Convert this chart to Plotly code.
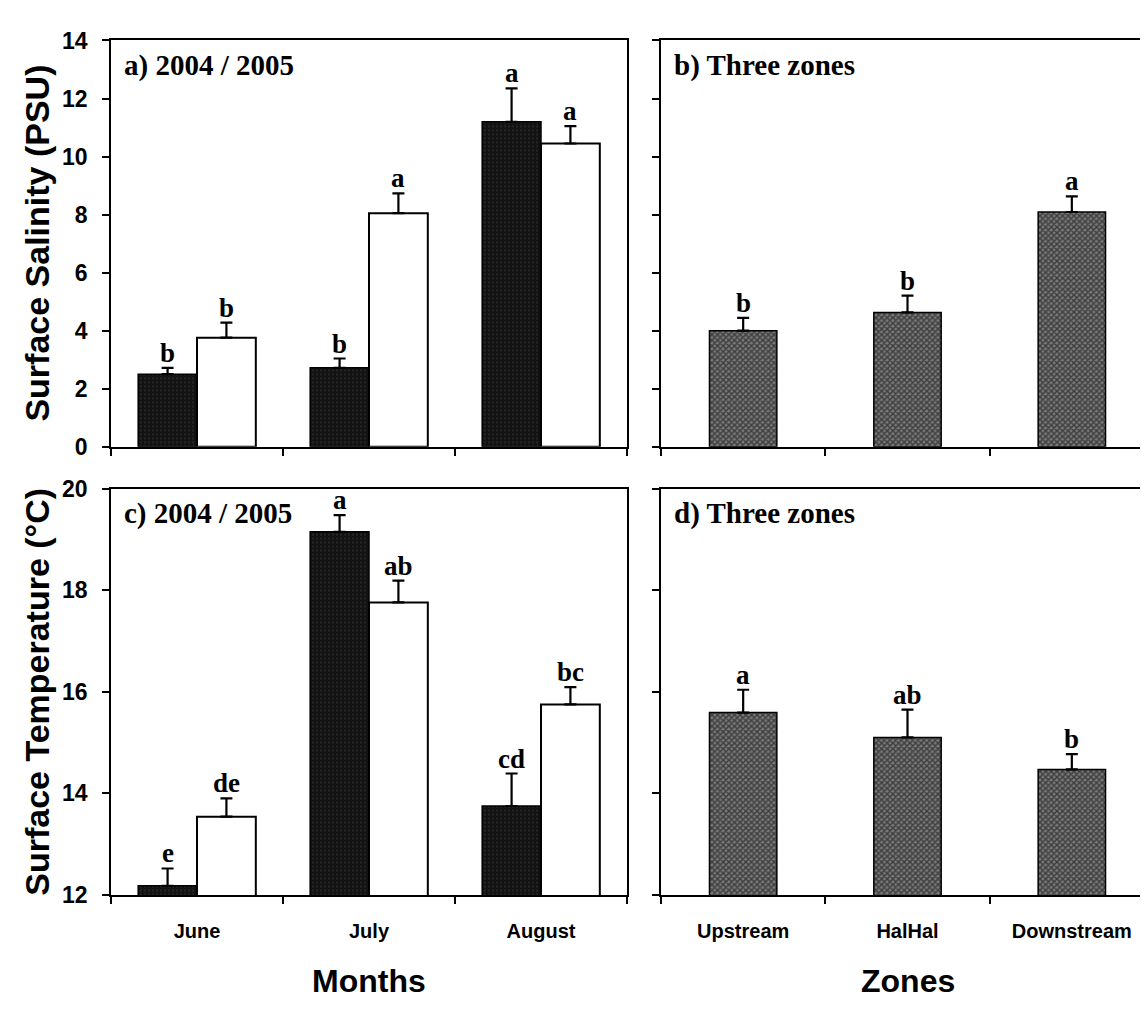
import plotly.graph_objects as go
from plotly.subplots import make_subplots

# ---------------- data ----------------
months = ["June", "July", "August"]
zones = ["Upstream", "HalHal", "Downstream"]

sal_2004 = [2.5, 2.72, 11.2]
sal_2004_err = [0.22, 0.32, 1.15]
sal_2004_lbl = ["b", "b", "a"]
sal_2005 = [3.76, 8.05, 10.45]
sal_2005_err = [0.52, 0.68, 0.6]
sal_2005_lbl = ["b", "a", "a"]
sal_zone = [4.0, 4.63, 8.09]
sal_zone_err = [0.44, 0.58, 0.54]
sal_zone_lbl = ["b", "b", "a"]

temp_2004 = [12.18, 19.15, 13.75]
temp_2004_err = [0.34, 0.33, 0.64]
temp_2004_lbl = ["e", "a", "cd"]
temp_2005 = [13.54, 17.76, 15.75]
temp_2005_err = [0.36, 0.43, 0.34]
temp_2005_lbl = ["de", "ab", "bc"]
temp_zone = [15.59, 15.1, 14.47]
temp_zone_err = [0.45, 0.55, 0.3]
temp_zone_lbl = ["a", "ab", "b"]

panel_titles = ["a) 2004 / 2005", "b) Three zones", "c) 2004 / 2005", "d) Three zones"]
sal_ticks = [0, 2, 4, 6, 8, 10, 12, 14]
temp_ticks = [12, 14, 16, 18, 20]

# ---------------- figure ----------------
W, H = 1148, 1009
fig = make_subplots(rows=2, cols=2)

MONTH_GAP = 0.316
ZONE_GAP = 0.59
half = (1 - MONTH_GAP) / 4.0  # offset of each grouped bar centre

black = dict(color="#111111", line=dict(color="black", width=1.5),
             pattern=dict(shape=".", fgcolor="#3a3a3a", size=4, solidity=0.25))
white = dict(color="white", line=dict(color="black", width=2))
zone_m = dict(color="#555555", line=dict(color="black", width=1.5),
              pattern=dict(shape="x", fgcolor="#000000", bgcolor="#7a7a7a", size=4, solidity=0.6))


def err(arr):
    return dict(type="data", symmetric=False, array=arr, arrayminus=[0] * len(arr),
                color="black", thickness=2.2, width=6)


def add_group(row, col, vals04, e04, vals05, e05):
    fig.add_trace(go.Bar(x=months, y=vals04, error_y=err(e04), marker=black,
                         showlegend=False, name="2004"), row=row, col=col)
    fig.add_trace(go.Bar(x=months, y=vals05, error_y=err(e05), marker=white,
                         showlegend=False, name="2005"), row=row, col=col)


def add_zone(row, col, vals, e):
    fig.add_trace(go.Bar(x=zones, y=vals, error_y=err(e), marker=zone_m,
                         showlegend=False, name="zones"), row=row, col=col)


add_group(1, 1, sal_2004, sal_2004_err, sal_2005, sal_2005_err)
add_zone(1, 2, sal_zone, sal_zone_err)
add_group(2, 1, temp_2004, temp_2004_err, temp_2005, temp_2005_err)
add_zone(2, 2, temp_zone, temp_zone_err)

for tr in fig.data:
    if tr.name == "zones":
        tr.width = 1 - ZONE_GAP
    else:
        tr.width = (1 - MONTH_GAP) / 2.0
fig.update_layout(barmode="group", bargap=MONTH_GAP, bargroupgap=0)


def xd(a, b):
    return [a / W, b / W]


def yd(top, bot):
    return [1 - bot / H, 1 - top / H]


left_x = xd(103, 619)
right_x = xd(653, 1146)
top_y = yd(20, 437)
bot_y = yd(480, 897)

axis_common = dict(showline=True, linecolor="black", linewidth=1.8, mirror=True,
                   ticks="outside", ticklen=7, tickwidth=1.5, tickcolor="black",
                   showgrid=False, zeroline=False)
xtick_font = dict(family="Liberation Sans, Arial", size=20, color="black", weight="bold")
ytick_font = dict(family="Liberation Sans, Arial", size=23, color="black", weight="bold")

fig.update_xaxes(axis_common)
fig.update_yaxes(axis_common)

fig.update_layout(
    xaxis=dict(domain=left_x, tickson="boundaries", showticklabels=False),
    xaxis2=dict(domain=right_x, tickson="boundaries", showticklabels=False),
    xaxis3=dict(domain=left_x, tickson="boundaries", tickfont=xtick_font, ticklabelstandoff=17),
    xaxis4=dict(domain=right_x, tickson="boundaries", tickfont=xtick_font, ticklabelstandoff=17),
    yaxis=dict(domain=top_y, range=[0, 14], tickvals=sal_ticks, tickfont=ytick_font, ticklabelstandoff=10),
    yaxis2=dict(domain=top_y, range=[0, 14], tickvals=sal_ticks, showticklabels=False),
    yaxis3=dict(domain=bot_y, range=[12, 20], tickvals=temp_ticks, tickfont=ytick_font, ticklabelstandoff=10),
    yaxis4=dict(domain=bot_y, range=[12, 20], tickvals=temp_ticks, showticklabels=False),
)

letter_font = dict(family="Liberation Serif, Times New Roman", size=27, color="black", weight="bold")
title_font = dict(family="Liberation Serif, Times New Roman", size=29, color="black", weight="bold")
anns = []


def letters(xref, yref, xs, tops, labels):
    for x, t, l in zip(xs, tops, labels):
        anns.append(dict(x=x, y=t, xref=xref, yref=yref, text=l, showarrow=False,
                         yanchor="bottom", xanchor="center", yshift=-2, font=letter_font))


idx = [0, 1, 2]
letters("x", "y", [i - half for i in idx], [v + e for v, e in zip(sal_2004, sal_2004_err)], sal_2004_lbl)
letters("x", "y", [i + half for i in idx], [v + e for v, e in zip(sal_2005, sal_2005_err)], sal_2005_lbl)
letters("x2", "y2", idx, [v + e for v, e in zip(sal_zone, sal_zone_err)], sal_zone_lbl)
letters("x3", "y3", [i - half for i in idx], [v + e for v, e in zip(temp_2004, temp_2004_err)], temp_2004_lbl)
letters("x3", "y3", [i + half for i in idx], [v + e for v, e in zip(temp_2005, temp_2005_err)], temp_2005_lbl)
letters("x4", "y4", idx, [v + e for v, e in zip(temp_zone, temp_zone_err)], temp_zone_lbl)

for (xdom, ydom), t in zip([(left_x, top_y), (right_x, top_y), (left_x, bot_y), (right_x, bot_y)], panel_titles):
    anns.append(dict(x=xdom[0] + 11 / W, y=ydom[1] - 7 / H, xref="paper", yref="paper",
                     text=t, showarrow=False, xanchor="left", yanchor="top", font=title_font))

ax_title_font = dict(family="Liberation Sans, Arial", size=34, color="black", weight="bold")
anns.append(dict(x=29 / W, y=sum(top_y) / 2, xref="paper", yref="paper", text="Surface Salinity (PSU)",
                 textangle=-90, showarrow=False, xanchor="center", yanchor="middle", font=ax_title_font))
anns.append(dict(x=29 / W, y=sum(bot_y) / 2, xref="paper", yref="paper", text="Surface Temperature (°C)",
                 textangle=-90, showarrow=False, xanchor="center", yanchor="middle", font=ax_title_font))
big_font = dict(family="Liberation Sans, Arial", size=32, color="black", weight="bold")
anns.append(dict(x=sum(left_x) / 2, y=1 - 985 / H, xref="paper", yref="paper", text="Months",
                 showarrow=False, xanchor="center", yanchor="middle", font=big_font))
anns.append(dict(x=sum(right_x) / 2, y=1 - 985 / H, xref="paper", yref="paper", text="Zones",
                 showarrow=False, xanchor="center", yanchor="middle", font=big_font))

fig.update_layout(annotations=anns, width=W, height=H,
                  margin=dict(l=0, r=0, t=0, b=0),
                  paper_bgcolor="white", plot_bgcolor="white")

fig.write_html("out.html")
